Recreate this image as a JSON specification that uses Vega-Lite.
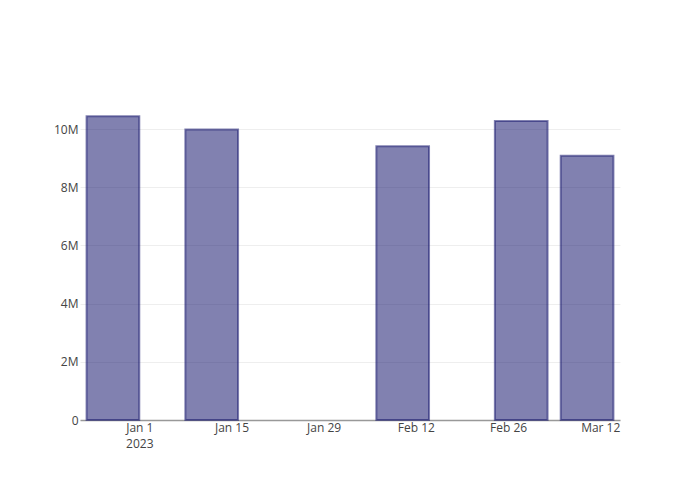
{
  "$schema": "https://vega.github.io/schema/vega-lite/v6.json",
  "autosize": {"type": "none"},
  "width": 540,
  "height": 320,
  "padding": {"left": 80, "top": 100, "right": 80, "bottom": 80},
  "background": "white",
  "config": {
    "view": {"stroke": null},
    "font": "Open Sans",
    "axis": {"labelFont": "Open Sans", "labelColor": "#444444", "labelFontSize": 12}
  },
  "data": {
    "values": [
      {"date": "2022-12-28", "value": 10440000},
      {"date": "2023-01-12", "value": 9990000},
      {"date": "2023-02-10", "value": 9410000},
      {"date": "2023-02-28", "value": 10280000},
      {"date": "2023-03-10", "value": 9080000}
    ]
  },
  "mark": {
    "type": "bar",
    "size": 52.7,
    "color": "#191970",
    "fillOpacity": 0.55,
    "strokeOpacity": 0.55,
    "stroke": "#191970",
    "strokeWidth": 2,
    "cornerRadius": 0
  },
  "encoding": {
    "x": {
      "field": "date",
      "type": "temporal",
      "scale": {
        "type": "utc",
        "padding": 0,
        "domain": [
          {"year": 2022, "month": 12, "date": 23, "utc": true},
          {"year": 2023, "month": 3, "date": 15, "utc": true}
        ],
        "nice": false
      },
      "axis": {
        "title": null,
        "grid": false,
        "ticks": false,
        "labelPadding": 2,
        "domainColor": "#999999",
        "domainWidth": 1.5,
        "values": [
          {"year": 2023, "month": 1, "date": 1, "utc": true},
          {"year": 2023, "month": 1, "date": 15, "utc": true},
          {"year": 2023, "month": 1, "date": 29, "utc": true},
          {"year": 2023, "month": 2, "date": 12, "utc": true},
          {"year": 2023, "month": 2, "date": 26, "utc": true},
          {"year": 2023, "month": 3, "date": 12, "utc": true}
        ],
        "labelExpr": "utcmonth(datum.value) == 0 && utcdate(datum.value) == 1 ? [utcFormat(datum.value, '%b %-d'), '2023'] : utcFormat(datum.value, '%b %-d')",
        "labelLineHeight": 16
      }
    },
    "y": {
      "field": "value",
      "type": "quantitative",
      "scale": {"domain": [0, 11000000], "nice": false},
      "axis": {
        "title": null,
        "domain": false,
        "ticks": false,
        "labelPadding": 2,
        "values": [0, 2000000, 4000000, 6000000, 8000000, 10000000],
        "labelExpr": "datum.value == 0 ? '0' : format(datum.value, '~s')",
        "gridColor": "#eeeeee",
        "gridWidth": 1
      }
    }
  }
}
